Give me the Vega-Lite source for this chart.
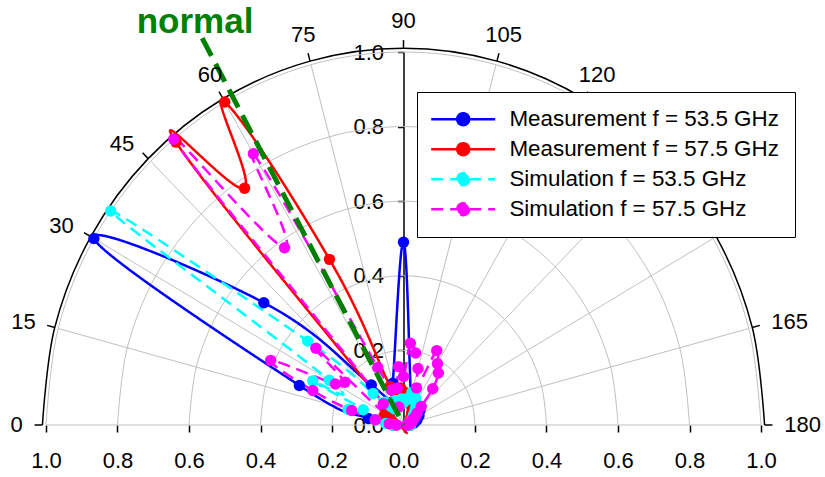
{
  "$schema": "https://vega.github.io/schema/vega-lite/v6.json",
  "width": 715,
  "height": 373,
  "autosize": "none",
  "padding": {"left": 46, "top": 52, "right": 64, "bottom": 52},
  "background": "white",
  "config": {"view": {"stroke": null}, "font": "Liberation Sans", "axis": {"grid": false}},
  "datasets": {
    "rings": [
      {"ring": 0.2, "ang": [0,15,30,45,60,75,90,105,120,135,150,165,180]},
      {"ring": 0.4, "ang": [0,15,30,45,60,75,90,105,120,135,150,165,180]},
      {"ring": 0.6, "ang": [0,15,30,45,60,75,90,105,120,135,150,165,180]},
      {"ring": 0.8, "ang": [0,15,30,45,60,75,90,105,120,135,150,165,180]},
      {"ring": 1.0, "ang": [0,15,30,45,60,75,90,105,120,135,150,165,180]}
    ],
    "arc": [
      {"ring": 1.01, "ang": [0,15,30,45,60,75,90,105,120,135,150,165,180]}
    ],
    "angles": [
      {"ang": 0, "lab": "0"}, {"ang": 15, "lab": "15"}, {"ang": 30, "lab": "30"},
      {"ang": 45, "lab": "45"}, {"ang": 60, "lab": "60"}, {"ang": 75, "lab": "75"},
      {"ang": 90, "lab": "90"}, {"ang": 105, "lab": "105"}, {"ang": 120, "lab": "120"},
      {"ang": 135, "lab": "135"}, {"ang": 150, "lab": "150"}, {"ang": 165, "lab": "165"},
      {"ang": 180, "lab": "180"}
    ],
    "normal": [{"a": 61.5, "r": 0}, {"a": 61.5, "r": 1.18}],
    "pattern": [
      {"s": "Measurement f = 53.5 GHz", "a": 0, "r": 0.03},
      {"s": "Measurement f = 53.5 GHz", "a": 10, "r": 0.10},
      {"s": "Measurement f = 53.5 GHz", "a": 20, "r": 0.31},
      {"s": "Measurement f = 53.5 GHz", "a": 30, "r": 1.0},
      {"s": "Measurement f = 53.5 GHz", "a": 40, "r": 0.51},
      {"s": "Measurement f = 53.5 GHz", "a": 50, "r": 0.14},
      {"s": "Measurement f = 53.5 GHz", "a": 60, "r": 0.07},
      {"s": "Measurement f = 53.5 GHz", "a": 75, "r": 0.116},
      {"s": "Measurement f = 53.5 GHz", "a": 90, "r": 0.49},
      {"s": "Measurement f = 53.5 GHz", "a": 105, "r": 0.08},
      {"s": "Measurement f = 53.5 GHz", "a": 120, "r": 0.05},
      {"s": "Measurement f = 53.5 GHz", "a": 130, "r": 0.06},
      {"s": "Measurement f = 53.5 GHz", "a": 140, "r": 0.06},
      {"s": "Measurement f = 53.5 GHz", "a": 150, "r": 0.05},
      {"s": "Measurement f = 53.5 GHz", "a": 160, "r": 0.04},
      {"s": "Measurement f = 53.5 GHz", "a": 170, "r": 0.03},
      {"s": "Measurement f = 53.5 GHz", "a": 180, "r": 0.02},

      {"s": "Measurement f = 57.5 GHz", "a": 0, "r": 0.02},
      {"s": "Measurement f = 57.5 GHz", "a": 5, "r": 0.03},
      {"s": "Measurement f = 57.5 GHz", "a": 10, "r": 0.04},
      {"s": "Measurement f = 57.5 GHz", "a": 15, "r": 0.05},
      {"s": "Measurement f = 57.5 GHz", "a": 20, "r": 0.05},
      {"s": "Measurement f = 57.5 GHz", "a": 25, "r": 0.06},
      {"s": "Measurement f = 57.5 GHz", "a": 30, "r": 0.05},
      {"s": "Measurement f = 57.5 GHz", "a": 35, "r": 0.06},
      {"s": "Measurement f = 57.5 GHz", "a": 40, "r": 0.05},
      {"s": "Measurement f = 57.5 GHz", "a": 45, "r": 0.07},
      {"s": "Measurement f = 57.5 GHz", "a": 50, "r": 0.99},
      {"s": "Measurement f = 57.5 GHz", "a": 55, "r": 0.775},
      {"s": "Measurement f = 57.5 GHz", "a": 60, "r": 1.0},
      {"s": "Measurement f = 57.5 GHz", "a": 65, "r": 0.49},
      {"s": "Measurement f = 57.5 GHz", "a": 70, "r": 0.11},
      {"s": "Measurement f = 57.5 GHz", "a": 75, "r": 0.08},
      {"s": "Measurement f = 57.5 GHz", "a": 80, "r": 0.10},
      {"s": "Measurement f = 57.5 GHz", "a": 85, "r": 0.10},
      {"s": "Measurement f = 57.5 GHz", "a": 90, "r": 0.09},
      {"s": "Measurement f = 57.5 GHz", "a": 95, "r": 0.08},
      {"s": "Measurement f = 57.5 GHz", "a": 100, "r": 0.07},
      {"s": "Measurement f = 57.5 GHz", "a": 105, "r": 0.06},
      {"s": "Measurement f = 57.5 GHz", "a": 110, "r": 0.07},
      {"s": "Measurement f = 57.5 GHz", "a": 115, "r": 0.06},
      {"s": "Measurement f = 57.5 GHz", "a": 120, "r": 0.05},
      {"s": "Measurement f = 57.5 GHz", "a": 125, "r": 0.04},
      {"s": "Measurement f = 57.5 GHz", "a": 130, "r": 0.04},
      {"s": "Measurement f = 57.5 GHz", "a": 135, "r": 0.03},
      {"s": "Measurement f = 57.5 GHz", "a": 140, "r": 0.03},
      {"s": "Measurement f = 57.5 GHz", "a": 145, "r": 0.03},
      {"s": "Measurement f = 57.5 GHz", "a": 150, "r": 0.02},
      {"s": "Measurement f = 57.5 GHz", "a": 155, "r": 0.02},
      {"s": "Measurement f = 57.5 GHz", "a": 160, "r": 0.02},
      {"s": "Measurement f = 57.5 GHz", "a": 165, "r": 0.02},
      {"s": "Measurement f = 57.5 GHz", "a": 170, "r": 0.02},
      {"s": "Measurement f = 57.5 GHz", "a": 175, "r": 0.02},
      {"s": "Measurement f = 57.5 GHz", "a": 180, "r": 0.02},

      {"s": "Simulation f = 53.5 GHz", "a": 0, "r": 0.03},
      {"s": "Simulation f = 53.5 GHz", "a": 5, "r": 0.05},
      {"s": "Simulation f = 53.5 GHz", "a": 10, "r": 0.08},
      {"s": "Simulation f = 53.5 GHz", "a": 15, "r": 0.16},
      {"s": "Simulation f = 53.5 GHz", "a": 20, "r": 0.12},
      {"s": "Simulation f = 53.5 GHz", "a": 25, "r": 0.28},
      {"s": "Simulation f = 53.5 GHz", "a": 30, "r": 0.24},
      {"s": "Simulation f = 53.5 GHz", "a": 35, "r": 1.0},
      {"s": "Simulation f = 53.5 GHz", "a": 40, "r": 0.35},
      {"s": "Simulation f = 53.5 GHz", "a": 45, "r": 0.12},
      {"s": "Simulation f = 53.5 GHz", "a": 50, "r": 0.08},
      {"s": "Simulation f = 53.5 GHz", "a": 55, "r": 0.06},
      {"s": "Simulation f = 53.5 GHz", "a": 60, "r": 0.05},
      {"s": "Simulation f = 53.5 GHz", "a": 65, "r": 0.06},
      {"s": "Simulation f = 53.5 GHz", "a": 70, "r": 0.07},
      {"s": "Simulation f = 53.5 GHz", "a": 75, "r": 0.05},
      {"s": "Simulation f = 53.5 GHz", "a": 80, "r": 0.06},
      {"s": "Simulation f = 53.5 GHz", "a": 85, "r": 0.07},
      {"s": "Simulation f = 53.5 GHz", "a": 90, "r": 0.06},
      {"s": "Simulation f = 53.5 GHz", "a": 95, "r": 0.07},
      {"s": "Simulation f = 53.5 GHz", "a": 100, "r": 0.07},
      {"s": "Simulation f = 53.5 GHz", "a": 105, "r": 0.09},
      {"s": "Simulation f = 53.5 GHz", "a": 110, "r": 0.10},
      {"s": "Simulation f = 53.5 GHz", "a": 115, "r": 0.08},
      {"s": "Simulation f = 53.5 GHz", "a": 120, "r": 0.07},
      {"s": "Simulation f = 53.5 GHz", "a": 125, "r": 0.06},
      {"s": "Simulation f = 53.5 GHz", "a": 130, "r": 0.05},
      {"s": "Simulation f = 53.5 GHz", "a": 135, "r": 0.04},
      {"s": "Simulation f = 53.5 GHz", "a": 140, "r": 0.04},
      {"s": "Simulation f = 53.5 GHz", "a": 145, "r": 0.03},
      {"s": "Simulation f = 53.5 GHz", "a": 150, "r": 0.03},
      {"s": "Simulation f = 53.5 GHz", "a": 155, "r": 0.02},
      {"s": "Simulation f = 53.5 GHz", "a": 160, "r": 0.02},
      {"s": "Simulation f = 53.5 GHz", "a": 165, "r": 0.02},
      {"s": "Simulation f = 53.5 GHz", "a": 170, "r": 0.02},
      {"s": "Simulation f = 53.5 GHz", "a": 175, "r": 0.02},
      {"s": "Simulation f = 53.5 GHz", "a": 180, "r": 0.02},

      {"s": "Simulation f = 57.5 GHz", "a": 0, "r": 0.02},
      {"s": "Simulation f = 57.5 GHz", "a": 5, "r": 0.04},
      {"s": "Simulation f = 57.5 GHz", "a": 10, "r": 0.08},
      {"s": "Simulation f = 57.5 GHz", "a": 15, "r": 0.15},
      {"s": "Simulation f = 57.5 GHz", "a": 20, "r": 0.27},
      {"s": "Simulation f = 57.5 GHz", "a": 25, "r": 0.41},
      {"s": "Simulation f = 57.5 GHz", "a": 30, "r": 0.22},
      {"s": "Simulation f = 57.5 GHz", "a": 35, "r": 0.20},
      {"s": "Simulation f = 57.5 GHz", "a": 40, "r": 0.32},
      {"s": "Simulation f = 57.5 GHz", "a": 45, "r": 0.08},
      {"s": "Simulation f = 57.5 GHz", "a": 50, "r": 1.0},
      {"s": "Simulation f = 57.5 GHz", "a": 55, "r": 0.58},
      {"s": "Simulation f = 57.5 GHz", "a": 60, "r": 0.84},
      {"s": "Simulation f = 57.5 GHz", "a": 65, "r": 0.17},
      {"s": "Simulation f = 57.5 GHz", "a": 70, "r": 0.10},
      {"s": "Simulation f = 57.5 GHz", "a": 75, "r": 0.05},
      {"s": "Simulation f = 57.5 GHz", "a": 80, "r": 0.10},
      {"s": "Simulation f = 57.5 GHz", "a": 85, "r": 0.157},
      {"s": "Simulation f = 57.5 GHz", "a": 90, "r": 0.13},
      {"s": "Simulation f = 57.5 GHz", "a": 95, "r": 0.22},
      {"s": "Simulation f = 57.5 GHz", "a": 100, "r": 0.196},
      {"s": "Simulation f = 57.5 GHz", "a": 105, "r": 0.157},
      {"s": "Simulation f = 57.5 GHz", "a": 110, "r": 0.106},
      {"s": "Simulation f = 57.5 GHz", "a": 115, "r": 0.22},
      {"s": "Simulation f = 57.5 GHz", "a": 120, "r": 0.19},
      {"s": "Simulation f = 57.5 GHz", "a": 125, "r": 0.17},
      {"s": "Simulation f = 57.5 GHz", "a": 130, "r": 0.127},
      {"s": "Simulation f = 57.5 GHz", "a": 135, "r": 0.07},
      {"s": "Simulation f = 57.5 GHz", "a": 140, "r": 0.05},
      {"s": "Simulation f = 57.5 GHz", "a": 145, "r": 0.04},
      {"s": "Simulation f = 57.5 GHz", "a": 150, "r": 0.03},
      {"s": "Simulation f = 57.5 GHz", "a": 155, "r": 0.03},
      {"s": "Simulation f = 57.5 GHz", "a": 160, "r": 0.02},
      {"s": "Simulation f = 57.5 GHz", "a": 165, "r": 0.02},
      {"s": "Simulation f = 57.5 GHz", "a": 170, "r": 0.02},
      {"s": "Simulation f = 57.5 GHz", "a": 175, "r": 0.01},
      {"s": "Simulation f = 57.5 GHz", "a": 180, "r": 0.01}
    ]
  },
  "encoding": {
    "x": {
      "field": "x", "type": "quantitative",
      "scale": {"domain": [-1, 1], "nice": false, "zero": false},
      "axis": {
        "title": null, "values": [-1, -0.8, -0.6, -0.4, -0.2, 0, 0.2, 0.4, 0.6, 0.8, 1],
        "labelExpr": "format(abs(datum.value), '.1f')",
        "domain": false, "grid": false, "ticks": true, "tickColor": "black", "tickSize": 7, "tickWidth": 1.5,
        "labelFont": "Liberation Sans", "labelFontSize": 22, "labelColor": "black",
        "labelBaseline": "alphabetic", "labelPadding": 35, "labelFlush": false, "labelOverlap": false
      }
    },
    "y": {
      "field": "y", "type": "quantitative",
      "scale": {"domain": [0, 1], "nice": false, "zero": false},
      "axis": {
        "title": null, "values": [0, 0.2, 0.4, 0.6, 0.8, 1.0], "format": ".1f",
        "offset": -357.5, "domain": true, "domainColor": "black", "domainWidth": 1.5,
        "grid": false, "tickColor": "black", "tickSize": 6, "tickWidth": 1.5,
        "labelFont": "Liberation Sans", "labelFontSize": 22, "labelColor": "black",
        "labelPadding": 14, "labelOverlap": false, "labelFlush": false
      }
    }
  },
  "layer": [
    {
      "data": {"name": "rings"},
      "transform": [
        {"flatten": ["ang"]},
        {"calculate": "-datum.ring*cos(datum.ang*PI/180)", "as": "x"},
        {"calculate": "datum.ring*sin(datum.ang*PI/180)", "as": "y"}
      ],
      "mark": {"type": "line", "interpolate": "cardinal", "stroke": "#c0c0c0", "strokeWidth": 1},
      "encoding": {
        "detail": {"field": "ring", "type": "nominal"},
        "order": {"field": "ang", "type": "quantitative"}
      }
    },
    {
      "data": {"name": "arc"},
      "transform": [
        {"flatten": ["ang"]},
        {"calculate": "-datum.ring*cos(datum.ang*PI/180)", "as": "x"},
        {"calculate": "datum.ring*sin(datum.ang*PI/180)", "as": "y"}
      ],
      "mark": {"type": "line", "interpolate": "cardinal", "stroke": "black", "strokeWidth": 1.5},
      "encoding": {
        "order": {"field": "ang", "type": "quantitative"}
      }
    },
    {
      "data": {"name": "angles"},
      "transform": [
        {"filter": "datum.ang != 90"},
        {"calculate": "0", "as": "x"},
        {"calculate": "0", "as": "y"},
        {"calculate": "-cos(datum.ang*PI/180)", "as": "ex"},
        {"calculate": "sin(datum.ang*PI/180)", "as": "ey"}
      ],
      "mark": {"type": "rule", "stroke": "#c0c0c0", "strokeWidth": 1},
      "encoding": {
        "x2": {"field": "ex"},
        "y2": {"field": "ey"}
      }
    },
    {
      "data": {"name": "angles"},
      "transform": [
        {"calculate": "-1.01*cos(datum.ang*PI/180)", "as": "x"},
        {"calculate": "1.01*sin(datum.ang*PI/180)", "as": "y"},
        {"calculate": "-1.032*cos(datum.ang*PI/180)", "as": "tx2"},
        {"calculate": "1.032*sin(datum.ang*PI/180)", "as": "ty2"}
      ],
      "mark": {"type": "rule", "stroke": "black", "strokeWidth": 1.5},
      "encoding": {
        "x2": {"field": "tx2"},
        "y2": {"field": "ty2"}
      }
    },
    {
      "data": {"name": "pattern"},
      "transform": [
        {"calculate": "-datum.r*cos(datum.a*PI/180)", "as": "x"},
        {"calculate": "datum.r*sin(datum.a*PI/180)", "as": "y"}
      ],
      "mark": {"type": "line", "interpolate": "cardinal", "tension": -0.25, "strokeWidth": 2.5},
      "encoding": {
        "color": {
          "field": "s", "type": "nominal",
          "scale": {
            "domain": ["Measurement f = 53.5 GHz", "Measurement f = 57.5 GHz", "Simulation f = 53.5 GHz", "Simulation f = 57.5 GHz"],
            "range": ["#0000ff", "#ff0000", "#00ffff", "#ff00ff"]
          }
        },
        "strokeDash": {
          "field": "s", "type": "nominal", "legend": null,
          "scale": {
            "domain": ["Measurement f = 53.5 GHz", "Measurement f = 57.5 GHz", "Simulation f = 53.5 GHz", "Simulation f = 57.5 GHz"],
            "range": [[1, 0], [1, 0], [12, 7], [12, 7]]
          }
        },
        "order": {"field": "a", "type": "quantitative"}
      }
    },
    {
      "data": {"name": "pattern"},
      "transform": [
        {"calculate": "-datum.r*cos(datum.a*PI/180)", "as": "x"},
        {"calculate": "datum.r*sin(datum.a*PI/180)", "as": "y"}
      ],
      "mark": {"type": "point", "filled": true, "shape": "circle", "size": 130, "opacity": 1, "strokeWidth": 0},
      "encoding": {
        "color": {
          "field": "s", "type": "nominal",
          "legend": {
            "orient": "none", "legendX": 371, "legendY": 40, "title": null, "direction": "vertical",
            "padding": 16, "strokeColor": "black", "fillColor": "white", "cornerRadius": 0,
            "labelFont": "Liberation Sans", "labelFontSize": 22.4, "labelColor": "black", "labelLimit": 400,
            "symbolType": "M-5.33,0H5.33M-1,0A1,1,0,1,1,1,0A1,1,0,1,1,-1,0Z",
            "symbolSize": 144, "symbolStrokeWidth": 2.5, "symbolOffset": 19, "labelOffset": 35, "rowPadding": 7,
            "encode": {
              "symbols": {
                "update": {
                  "fill": {"scale": "color", "field": "value"},
                  "stroke": {"scale": "color", "field": "value"},
                  "strokeDash": {"scale": "strokeDash", "field": "value"},
                  "strokeWidth": {"value": 2.5},
                  "opacity": {"value": 1}
                }
              }
            }
          }
        }
      }
    },
    {
      "data": {"name": "normal"},
      "transform": [
        {"calculate": "-datum.r*cos(datum.a*PI/180)", "as": "x"},
        {"calculate": "datum.r*sin(datum.a*PI/180)", "as": "y"}
      ],
      "mark": {"type": "line", "stroke": "#008000", "strokeWidth": 5, "strokeDash": [20, 9]},
      "encoding": {
        "order": {"field": "r", "type": "quantitative", "sort": "descending"}
      }
    },
    {
      "data": {"values": [{"t": "normal", "x": -0.583, "y": 1.051}]},
      "mark": {"type": "text", "font": "Liberation Sans", "fontSize": 35, "fontWeight": "bold", "color": "#008000", "align": "center", "baseline": "alphabetic"},
      "encoding": {
        "text": {"field": "t", "type": "nominal"}
      }
    },
    {
      "data": {"name": "angles"},
      "transform": [
        {"filter": "datum.ang < 50"},
        {"calculate": "-1.065*cos(datum.ang*PI/180)", "as": "x"},
        {"calculate": "1.065*sin(datum.ang*PI/180)", "as": "y"}
      ],
      "mark": {"type": "text", "font": "Liberation Sans", "fontSize": 22, "color": "black", "align": "right", "baseline": "middle"},
      "encoding": {
        "text": {"field": "lab", "type": "nominal"}
      }
    },
    {
      "data": {"name": "angles"},
      "transform": [
        {"filter": "datum.ang >= 50 && datum.ang <= 130"},
        {"calculate": "-1.083*cos(datum.ang*PI/180)", "as": "x"},
        {"calculate": "1.083*sin(datum.ang*PI/180)", "as": "y"}
      ],
      "mark": {"type": "text", "font": "Liberation Sans", "fontSize": 22, "color": "black", "align": "center", "baseline": "middle"},
      "encoding": {
        "text": {"field": "lab", "type": "nominal"}
      }
    },
    {
      "data": {"name": "angles"},
      "transform": [
        {"filter": "datum.ang > 155"},
        {"calculate": "-1.065*cos(datum.ang*PI/180)", "as": "x"},
        {"calculate": "1.065*sin(datum.ang*PI/180)", "as": "y"}
      ],
      "mark": {"type": "text", "font": "Liberation Sans", "fontSize": 22, "color": "black", "align": "left", "baseline": "middle"},
      "encoding": {
        "text": {"field": "lab", "type": "nominal"}
      }
    }
  ]
}
